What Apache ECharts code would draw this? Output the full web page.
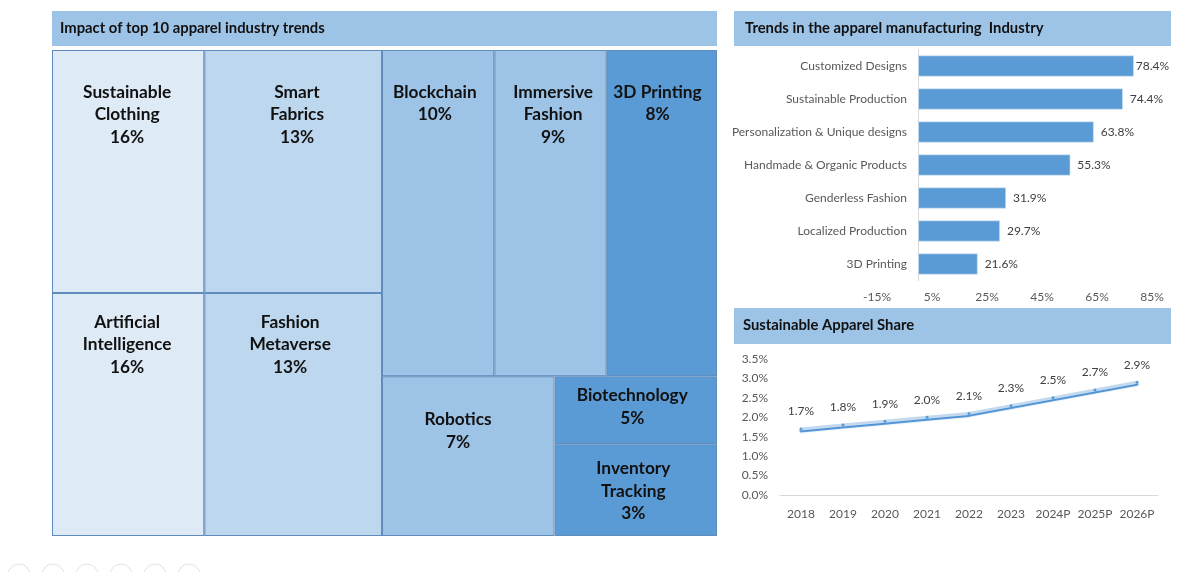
<!DOCTYPE html>
<html>
<head>
<meta charset="utf-8">
<script src="https://cdn.jsdelivr.net/npm/echarts@6/dist/echarts.min.js"></script>
<style>
  html, body { margin: 0; padding: 0; background: #fff; }
  #main { width: 1200px; height: 572px; }
</style>
</head>
<body>
<div id="main"></div>
<script>
// tile names, printed shares and tile areas (% of the block,
// the printed shares don't match the drawn areas)
const tileNames = ['Sustainable\nClothing', 'Smart\nFabrics', 'Artificial\nIntelligence', 'Fashion\nMetaverse', 'Blockchain', 'Immersive\nFashion', '3D Printing', 'Robotics', 'Biotechnology', 'Inventory\nTracking']
const tileShares = [16, 13, 16, 13, 10, 9, 8, 7, 5, 3]
const tileAreas = [11.4, 13.3, 11.4, 13.3, 11.3, 11.3, 11.1, 8.5, 3.4, 4.6]

const trendNames = ['Customized Designs', 'Sustainable Production', 'Personalization & Unique designs', 'Handmade & Organic Products', 'Genderless Fashion', 'Localized Production', '3D Printing']
const trendValues = [78.4, 74.4, 63.8, 55.3, 31.9, 29.7, 21.6]
const trendTicks = [-15, 5, 25, 45, 65, 85]

const shareYears = ['2018', '2019', '2020', '2021', '2022', '2023', '2024P', '2025P', '2026P']
const shareValues = [1.7, 1.8, 1.9, 2.0, 2.1, 2.3, 2.5, 2.7, 2.9]

const FONT = 'Lato, "Open Sans", sans-serif'
const BAND = '#9dc3e6'
const BAR = '#5b9bd5'
const TILE_BORDER = '#5f8bbd'
const tileColors = ['#deeaf6', '#bdd7ee', '#deeaf6', '#bdd7ee', '#9dc3e6', '#9dc3e6', '#5b9bd5', '#9dc3e6', '#5b9bd5', '#5b9bd5']
// label anchor inside each tile
const tileLabelLefts = ['49.3%', '52.2%', '49.3%', '48.3%', '47%', '52.4%', '46%', '44%', '47.8%', '48.5%']
const tileLabelTops = [25, 25, 12, 12, 25, 25, 25, 26, 2, 7.5]

const tile = (i) => ({
  name: tileNames[i],
  value: tileAreas[i],
  share: tileShares[i],
  itemStyle: { color: tileColors[i], borderColor: TILE_BORDER, borderWidth: 1 },
  label: { position: [tileLabelLefts[i], tileLabelTops[i]] },
})
const group = (name, children) => ({
  name,
  children,
  itemStyle: { borderWidth: 0, gapWidth: 0 },
  upperLabel: { show: false },
  label: { show: false },
})

const treemapBase = {
  type: 'treemap',
  top: 50,
  height: 486,
  roam: false,
  nodeClick: false,
  silent: true,
  sort: false,
  breadcrumb: { show: false },
  itemStyle: { borderWidth: 0, gapWidth: 0 },
  label: {
    show: true,
    align: 'center',
    verticalAlign: 'top',
    color: '#111',
    fontFamily: FONT,
    fontWeight: 'bold',
    fontSize: 17.3,
    lineHeight: 22.5,
    overflow: 'none',
    formatter: (p) => `${p.name}\n${p.data.share}%`,
  },
}

const option = {
  animation: false,
  backgroundColor: '#fff',
  textStyle: { fontFamily: FONT },
  graphic: [
    { type: 'rect', z: -1, shape: { x: 52, y: 11, width: 665, height: 35 }, style: { fill: BAND } },
    { type: 'rect', z: -1, shape: { x: 734, y: 11, width: 437, height: 35 }, style: { fill: BAND } },
    { type: 'rect', z: -1, shape: { x: 734, y: 308, width: 437, height: 36 }, style: { fill: BAND } },
    ...[0, 1, 2, 3, 4, 5].map((i) => ({
      type: 'circle',
      shape: { cx: 19 + i * 34, cy: 575, r: 11 },
      style: { fill: 'none', stroke: '#e2e2e2', lineWidth: 1 },
    })),
  ],
  title: [
    { text: 'Impact of top 10 apparel industry trends', left: 60, top: 20.5 },
    { text: 'Trends in the apparel manufacturing  Industry', left: 745, top: 20.5 },
    { text: 'Sustainable Apparel Share', left: 743, top: 317.5 },
  ].map((t) => ({
    ...t,
    padding: 0,
    textStyle: { fontFamily: FONT, fontSize: 14.8, fontWeight: 'bold', color: '#111' },
  })),
  grid: [
    { left: 877, width: 275, top: 49.5, height: 231 },
    { left: 780, width: 378, top: 359, height: 136 },
  ],
  xAxis: [
    {
      gridIndex: 0,
      type: 'value',
      min: -15,
      max: 85,
      splitLine: { show: false },
      axisLine: { show: false },
      axisTick: { show: false },
      axisLabel: {
        customValues: trendTicks,
        formatter: '{value}%',
        color: '#595959',
        fontSize: 12,
        margin: 11,
      },
    },
    {
      gridIndex: 1,
      type: 'category',
      data: shareYears,
      axisLine: { lineStyle: { color: '#d9d9d9' } },
      axisTick: { show: false },
      axisLabel: { color: '#595959', fontSize: 12, margin: 13, interval: 0 },
    },
  ],
  yAxis: [
    {
      gridIndex: 0,
      type: 'category',
      inverse: true,
      data: trendNames,
      axisLine: { lineStyle: { color: '#d9d9d9' } },
      axisTick: { show: false },
      // labels hang off the grid edge, the zero line sits 42px further in
      axisLabel: { color: '#595959', fontSize: 12, margin: -30 },
    },
    {
      gridIndex: 1,
      type: 'value',
      min: 0,
      max: 3.5,
      interval: 0.5,
      splitLine: { show: false },
      axisLine: { show: false },
      axisTick: { show: false },
      axisLabel: {
        color: '#595959',
        fontSize: 12,
        margin: 12,
        formatter: (v) => `${v.toFixed(1)}%`,
      },
    },
  ],
  series: [
    {
      ...treemapBase,
      left: 52,
      width: 330,
      squareRatio: 0.5,
      data: [
        group('Top row', [tile(0), tile(1)]),
        group('Bottom row', [tile(2), tile(3)]),
      ],
    },
    {
      ...treemapBase,
      left: 382,
      width: 335,
      squareRatio: 1.459,
      data: [
        group('Upper trends', [group('Blockchain and Immersive', [tile(4), tile(5)]), tile(6)]),
        group('Lower trends', [tile(7), group('Smallest', [tile(8), tile(9)])]),
      ],
    },
    {
      type: 'bar',
      xAxisIndex: 0,
      yAxisIndex: 0,
      barWidth: 21,
      itemStyle: { color: BAR, borderColor: '#d5e5f4', borderWidth: 0.6 },
      label: {
        show: true,
        position: 'right',
        distance: 7,
        color: '#404040',
        fontSize: 12,
        formatter: (p) => `${p.value.toFixed(1)}%`,
      },
      // first label sits right against its bar
      data: trendValues.map((v, i) => (i === 0 ? { value: v, label: { distance: 2 } } : v)),
    },
    {
      type: 'line',
      xAxisIndex: 1,
      yAxisIndex: 1,
      data: shareValues,
      symbol: 'circle',
      symbolSize: 3,
      itemStyle: { color: BAR },
      lineStyle: { color: '#c2d9f0', width: 3, cap: 'round', shadowColor: '#4a90d4', shadowBlur: 1, shadowOffsetY: 2 },
      label: {
        show: true,
        position: 'top',
        distance: 10,
        color: '#404040',
        fontSize: 12,
        formatter: (p) => `${p.value.toFixed(1)}%`,
      },
    },
  ],
}

const chart = echarts.init(document.getElementById('main'), null, { renderer: 'canvas' })
chart.setOption(option)
</script>
</body>
</html>
